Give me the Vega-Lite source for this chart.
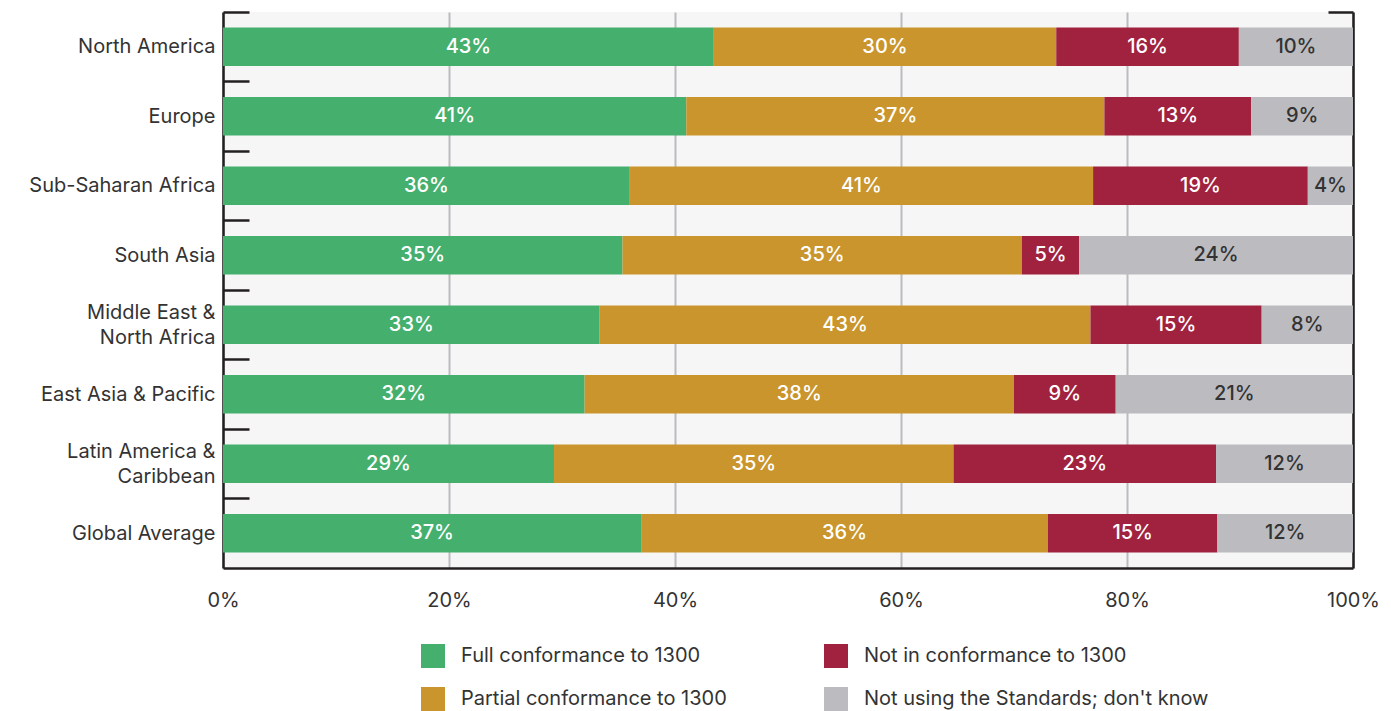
{
  "$schema": "https://vega.github.io/schema/vega-lite/v6.json",
  "width": 1130,
  "height": 556,
  "autosize": {"type": "none"},
  "padding": {"left": 223, "top": 12, "right": 38, "bottom": 143},
  "background": "white",
  "config": {
    "view": {"fill": "#f6f6f6", "stroke": null},
    "font": "Inter",
    "axis": {"zindex": 1}
  },
  "data": {
    "values": [
      {"region": "North America", "status": "Full conformance to 1300", "ord": 1, "share": 0.43},
      {"region": "North America", "status": "Partial conformance to 1300", "ord": 2, "share": 0.30},
      {"region": "North America", "status": "Not in conformance to 1300", "ord": 3, "share": 0.16},
      {"region": "North America", "status": "Not using the Standards; don't know", "ord": 4, "share": 0.10},
      {"region": "Europe", "status": "Full conformance to 1300", "ord": 1, "share": 0.41},
      {"region": "Europe", "status": "Partial conformance to 1300", "ord": 2, "share": 0.37},
      {"region": "Europe", "status": "Not in conformance to 1300", "ord": 3, "share": 0.13},
      {"region": "Europe", "status": "Not using the Standards; don't know", "ord": 4, "share": 0.09},
      {"region": "Sub-Saharan Africa", "status": "Full conformance to 1300", "ord": 1, "share": 0.36},
      {"region": "Sub-Saharan Africa", "status": "Partial conformance to 1300", "ord": 2, "share": 0.41},
      {"region": "Sub-Saharan Africa", "status": "Not in conformance to 1300", "ord": 3, "share": 0.19},
      {"region": "Sub-Saharan Africa", "status": "Not using the Standards; don't know", "ord": 4, "share": 0.04},
      {"region": "South Asia", "status": "Full conformance to 1300", "ord": 1, "share": 0.35},
      {"region": "South Asia", "status": "Partial conformance to 1300", "ord": 2, "share": 0.35},
      {"region": "South Asia", "status": "Not in conformance to 1300", "ord": 3, "share": 0.05},
      {"region": "South Asia", "status": "Not using the Standards; don't know", "ord": 4, "share": 0.24},
      {"region": "Middle East & North Africa", "status": "Full conformance to 1300", "ord": 1, "share": 0.33},
      {"region": "Middle East & North Africa", "status": "Partial conformance to 1300", "ord": 2, "share": 0.43},
      {"region": "Middle East & North Africa", "status": "Not in conformance to 1300", "ord": 3, "share": 0.15},
      {"region": "Middle East & North Africa", "status": "Not using the Standards; don't know", "ord": 4, "share": 0.08},
      {"region": "East Asia & Pacific", "status": "Full conformance to 1300", "ord": 1, "share": 0.32},
      {"region": "East Asia & Pacific", "status": "Partial conformance to 1300", "ord": 2, "share": 0.38},
      {"region": "East Asia & Pacific", "status": "Not in conformance to 1300", "ord": 3, "share": 0.09},
      {"region": "East Asia & Pacific", "status": "Not using the Standards; don't know", "ord": 4, "share": 0.21},
      {"region": "Latin America & Caribbean", "status": "Full conformance to 1300", "ord": 1, "share": 0.29},
      {"region": "Latin America & Caribbean", "status": "Partial conformance to 1300", "ord": 2, "share": 0.35},
      {"region": "Latin America & Caribbean", "status": "Not in conformance to 1300", "ord": 3, "share": 0.23},
      {"region": "Latin America & Caribbean", "status": "Not using the Standards; don't know", "ord": 4, "share": 0.12},
      {"region": "Global Average", "status": "Full conformance to 1300", "ord": 1, "share": 0.37},
      {"region": "Global Average", "status": "Partial conformance to 1300", "ord": 2, "share": 0.36},
      {"region": "Global Average", "status": "Not in conformance to 1300", "ord": 3, "share": 0.15},
      {"region": "Global Average", "status": "Not using the Standards; don't know", "ord": 4, "share": 0.12}
    ]
  },
  "resolve": {"axis": {"y": "independent"}},
  "layer": [
    {
      "mark": {"type": "bar"},
      "encoding": {
        "y": {
          "field": "region", "type": "nominal",
          "sort": ["North America", "Europe", "Sub-Saharan Africa", "South Asia", "Middle East & North Africa", "East Asia & Pacific", "Latin America & Caribbean", "Global Average"],
          "scale": {"paddingInner": 0.445, "paddingOuter": 0.2225},
          "axis": {
            "title": null,
            "orient": "left",
            "domainColor": "#231f20", "domainWidth": 2.5,
            "bandPosition": 0, "tickOffset": -15.5,
            "tickSize": -26, "tickWidth": 2.5, "tickColor": "#231f20",
            "labelPadding": 34, "labelFontSize": 20, "labelColor": "#333333", "labelLineHeight": 25,
            "labelBaseline": "middle", "labelLimit": 400,
            "labelOffset": {"condition": {"test": "datum.value == 'Middle East & North Africa' || datum.value == 'Latin America & Caribbean'", "value": 3.2}, "value": 15.5},
            "labelExpr": "datum.label == 'Middle East & North Africa' ? ['Middle East &', 'North Africa'] : datum.label == 'Latin America & Caribbean' ? ['Latin America &', 'Caribbean'] : datum.label"
          }
        },
        "x": {
          "field": "share", "type": "quantitative", "stack": "normalize",
          "scale": {"domain": [0, 1], "nice": false},
          "axis": {
            "title": null, "values": [0, 0.2, 0.4, 0.6, 0.8, 1], "format": ".0%",
            "ticks": false, "domainColor": "#231f20", "domainWidth": 2.5,
            "grid": true, "gridColor": "#bbbcc0", "gridWidth": 2,
            "labelFlush": false,
            "labelPadding": 22, "labelFontSize": 20, "labelColor": "#333333"
          }
        },
        "color": {
          "field": "status", "type": "nominal",
          "scale": {
            "domain": ["Full conformance to 1300", "Not in conformance to 1300", "Partial conformance to 1300", "Not using the Standards; don't know"],
            "range": ["#45af6e", "#a0223f", "#c9952c", "#bcbcc0"]
          },
          "legend": {
            "title": null, "orient": "none", "legendX": 198, "legendY": 632,
            "columns": 2, "direction": "horizontal",
            "symbolType": "square", "symbolSize": 576, "symbolStrokeWidth": 0, "symbolOpacity": 1,
            "labelFontSize": 20, "labelColor": "#333333", "labelOffset": 16, "labelLimit": 500,
            "columnPadding": 97, "rowPadding": 19
          }
        },
        "order": {"field": "ord", "type": "quantitative"}
      }
    },
    {
      "mark": {"type": "text", "fontSize": 20, "fontWeight": 500, "baseline": "middle", "align": "center"},
      "encoding": {
        "y": {
          "field": "region", "type": "nominal",
          "sort": ["North America", "Europe", "Sub-Saharan Africa", "South Asia", "Middle East & North Africa", "East Asia & Pacific", "Latin America & Caribbean", "Global Average"],
          "axis": {
            "title": null, "orient": "right", "labels": false,
            "domainColor": "#231f20", "domainWidth": 2.5,
            "values": ["North America"], "bandPosition": 0, "tickOffset": -15.5,
            "tickSize": -25, "tickWidth": 2.5, "tickColor": "#231f20"
          }
        },
        "x": {"field": "share", "type": "quantitative", "stack": "normalize", "bandPosition": 0.5},
        "text": {"field": "share", "type": "quantitative", "format": ".0%"},
        "color": {"condition": {"test": "datum.ord == 4", "value": "#333333"}, "value": "white"},
        "order": {"field": "ord", "type": "quantitative"}
      }
    }
  ]
}
